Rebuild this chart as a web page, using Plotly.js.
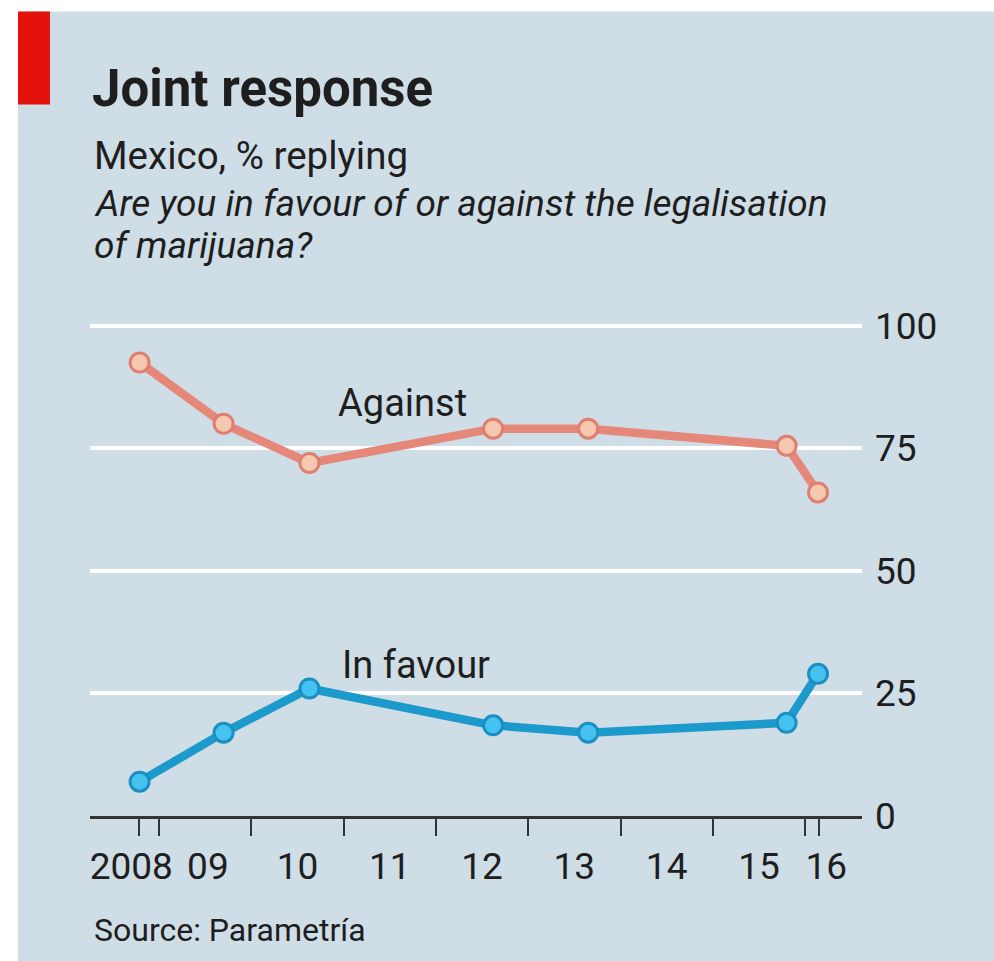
<!DOCTYPE html>
<html>
<head>
<meta charset="utf-8">
<script src="https://cdn.plot.ly/plotly-3.0.1.min.js"></script>
<style>html,body{margin:0;padding:0;background:#fff;}#chart{width:994px;height:961px;}</style>
</head>
<body>
<div id="chart"></div>
<script>
// Survey dates (decimal years)
var surveyDates = [2008.79, 2009.70, 2010.63, 2012.62, 2013.65, 2015.80, 2016.14];
// % replying
var against = [92.5, 80, 72, 79, 79, 75.5, 66];
var inFavour = [7, 17, 26, 18.5, 17, 19, 29];
// Axis ticks
var yTickVals = [0, 25, 50, 75, 100];
var yTickText = ['0', '25', '50', '75', '100'];
var xTickMarks = [2008.78, 2009, 2010, 2011, 2012, 2013, 2014, 2015, 2016, 2016.15];
var xLabelPos = [2008.70, 2009.53, 2010.5, 2011.5, 2012.5, 2013.5, 2014.5, 2015.5, 2016.23];
var xLabelText = ['2008', '09', '10', '11', '12', '13', '14', '15', '16'];

var FONT = 'Roboto, "Open Sans", sans-serif';
var INK = '#1e1e1e';
var BG = '#cfdde6';

// plot area geometry helpers (paper coords)
var L = 90, R = 862, T = 311.3, B = 816;
function px(x) { return (x - L) / (R - L); }
function py(y) { return (B - y) / (B - T); }

var traces = [
  {
    x: surveyDates, y: against, type: 'scatter', mode: 'lines+markers', name: 'Against',
    line: {color: '#e5887a', width: 8.5},
    marker: {size: 19, color: '#f6c8b0', line: {color: '#de7f70', width: 3}},
    cliponaxis: false, hoverinfo: 'x+y'
  },
  {
    x: surveyDates, y: inFavour, type: 'scatter', mode: 'lines+markers', name: 'In favour',
    line: {color: '#1c9acb', width: 8.5},
    marker: {size: 19, color: '#45c2ef', line: {color: '#1a8fc2', width: 3}},
    cliponaxis: false, hoverinfo: 'x+y'
  }
];

var layout = {
  width: 994, height: 961,
  margin: {l: L, r: 994 - R, t: T, b: 961 - B, pad: 0},
  paper_bgcolor: '#ffffff',
  plot_bgcolor: BG,
  showlegend: false,
  font: {family: FONT, color: INK, size: 37},
  title: {
    text: '<b>Joint response</b>',
    font: {family: FONT, size: 51, color: INK},
    xref: 'container', yref: 'container',
    x: 92 / 994, xanchor: 'left',
    y: 1 - 88 / 961, yanchor: 'middle'
  },
  xaxis: {
    range: [2008.2525, 2016.6165],
    tickmode: 'array', tickvals: xLabelPos, ticktext: xLabelText,
    ticks: '', showgrid: false, zeroline: false,
    showline: true, linecolor: '#333333', linewidth: 2.5,
    tickfont: {family: FONT, size: 37, color: INK},
    ticklabelstandoff: 16,
    minor: {tickmode: 'array', tickvals: xTickMarks, ticks: 'outside', ticklen: 17, tickwidth: 2, tickcolor: '#333333', showgrid: false},
    fixedrange: true
  },
  yaxis: {
    range: [0, 103], side: 'right',
    tickmode: 'array', tickvals: yTickVals, ticktext: yTickText,
    ticks: '', showgrid: true, gridcolor: '#ffffff', gridwidth: 4,
    zeroline: false, showline: false,
    tickfont: {family: FONT, size: 37, color: INK},
    ticklabelstandoff: 12,
    fixedrange: true
  },
  shapes: [
    {type: 'rect', xref: 'paper', yref: 'paper', layer: 'below',
     x0: px(18), x1: px(994), y0: py(961), y1: py(12),
     fillcolor: BG, line: {width: 0}},
    {type: 'rect', xref: 'paper', yref: 'paper',
     x0: px(18), x1: px(50), y0: py(105), y1: py(12),
     fillcolor: '#e3120b', line: {width: 0}}
  ],
  annotations: [
    {text: 'Mexico, % replying', xref: 'paper', yref: 'paper', x: px(92), y: py(155.5),
     xanchor: 'left', yanchor: 'middle', showarrow: false, font: {family: FONT, size: 38.5, color: INK}},
    {text: '<i>Are you in favour of or against the legalisation</i>', xref: 'paper', yref: 'paper', x: px(92), y: py(203.5),
     xanchor: 'left', yanchor: 'middle', showarrow: false, font: {family: FONT, size: 37, color: INK}},
    {text: '<i>of marijuana?</i>', xref: 'paper', yref: 'paper', x: px(92), y: py(245.5),
     xanchor: 'left', yanchor: 'middle', showarrow: false, font: {family: FONT, size: 37, color: INK}},
    {text: 'Source: Parametría', xref: 'paper', yref: 'paper', x: px(92), y: py(930),
     xanchor: 'left', yanchor: 'middle', showarrow: false, font: {family: FONT, size: 32, color: INK}},
    {text: 'Against', xref: 'x', yref: 'y', x: 2011.64, y: 84.3,
     xanchor: 'center', yanchor: 'middle', showarrow: false, font: {family: FONT, size: 38, color: INK}},
    {text: 'In favour', xref: 'x', yref: 'y', x: 2011.78, y: 30.8,
     xanchor: 'center', yanchor: 'middle', showarrow: false, font: {family: FONT, size: 38, color: INK}}
  ]
};

Plotly.newPlot('chart', traces, layout, {staticPlot: true, displayModeBar: false});
</script>
</body>
</html>
